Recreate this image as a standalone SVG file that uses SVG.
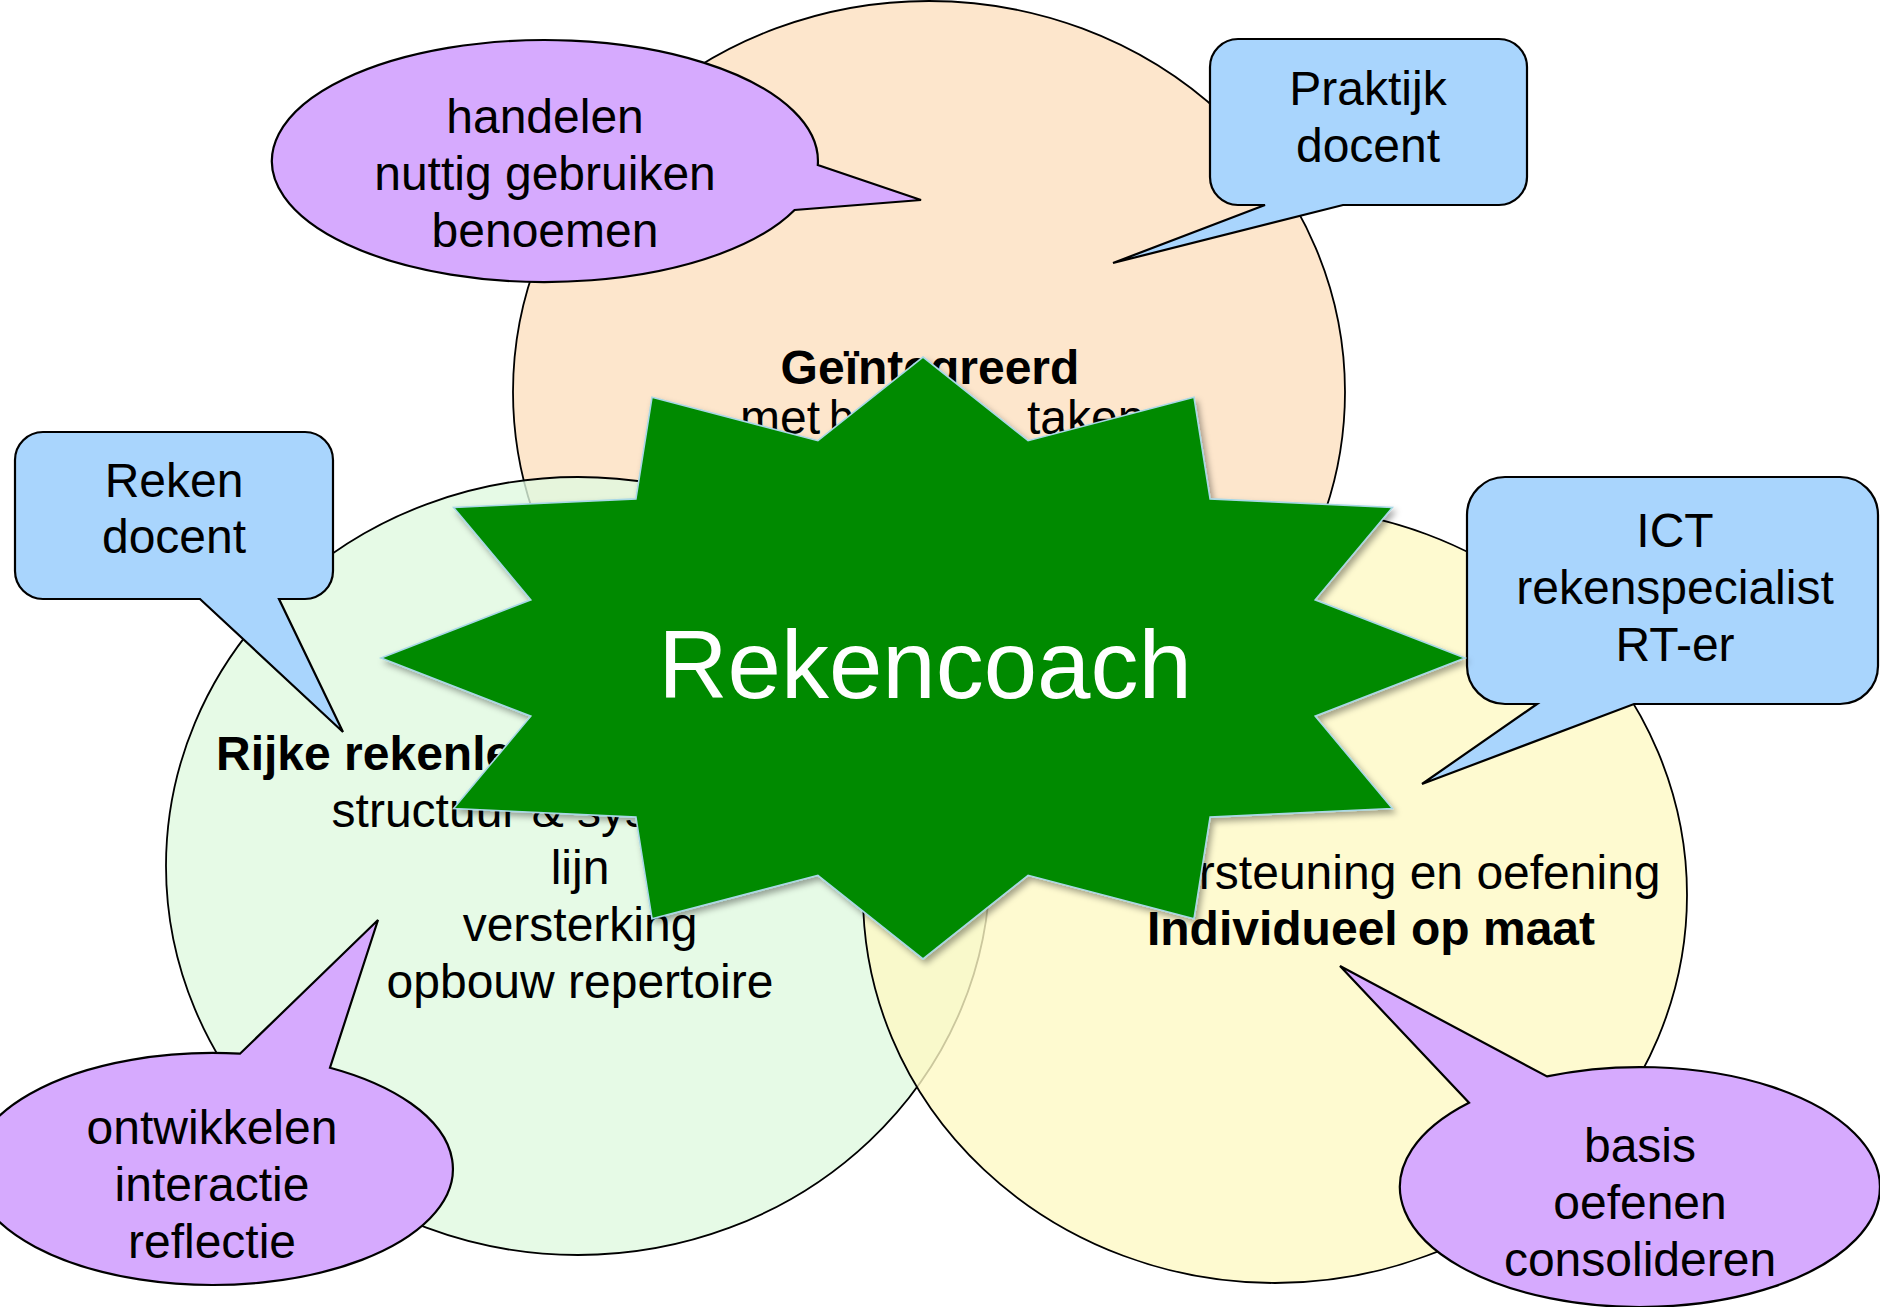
<svg xmlns="http://www.w3.org/2000/svg" width="1880" height="1307" viewBox="0 0 1880 1307">
<defs>
<style>
.t{font-family:"Liberation Sans",Arial,Helvetica,sans-serif;font-size:48px;fill:#000;text-anchor:middle}
.s{text-anchor:start}
.b{font-weight:bold}
.circ{stroke:#000;stroke-width:1.8}
.blue{fill:#a9d5fd;stroke:#000;stroke-width:2.2;stroke-linejoin:miter}
.purple{fill:#d6aafe;stroke:#000;stroke-width:2.2;stroke-linejoin:miter}
</style>
<filter id="shadow" x="-10%" y="-10%" width="120%" height="120%">
<feDropShadow dx="3" dy="4" stdDeviation="3" flood-color="#000" flood-opacity="0.35"/>
</filter>
</defs>
<rect x="0" y="0" width="1880" height="1307" fill="#fff"/>

<g id="circle-top">
<ellipse class="circ" cx="929" cy="392" rx="416" ry="391" fill="#fde6cc"/>
</g>
<g id="circle-left">
<ellipse class="circ" cx="578" cy="866" rx="412" ry="389" fill="#e0f9e0" fill-opacity="0.8"/>
</g>
<g id="circle-right">
<ellipse class="circ" cx="1275" cy="895" rx="412" ry="388" fill="#fef9c4" fill-opacity="0.8"/>
</g>

<g id="circle-top-text">
<text class="t b" x="930" y="384">Geïntegreerd</text>
<text class="t s" y="434"><tspan x="740">met </tspan><tspan x="829" textLength="162" lengthAdjust="spacingAndGlyphs">beroeps</tspan><tspan x="1027">taken</tspan></text>
</g>
<g id="circle-left-text">
<text class="t b s" x="216" y="770">Rijke rekenlessen</text>
<text class="t" x="581" y="827">structuur &amp; systematiek</text>
<text class="t" x="580" y="884">lijn</text>
<text class="t" x="580" y="941">versterking</text>
<text class="t" x="580" y="998">opbouw repertoire</text>
</g>
<g id="circle-right-text">
<text class="t" x="1371" y="889">Ondersteuning en oefening</text>
<text class="t b" x="1371" y="945">Individueel op maat</text>
</g>

<g id="callout-handelen">
<path class="purple" d="M 817.8,165 A 273 121 0 1 0 794.6,210 L 921,200 Z"/>
<text class="t" x="545" y="133">handelen</text>
<text class="t" x="545" y="190">nuttig gebruiken</text>
<text class="t" x="545" y="247">benoemen</text>
</g>

<g id="callout-praktijk">
<path class="blue" d="M 1238,39 H 1499 A 28 28 0 0 1 1527,67 V 177 A 28 28 0 0 1 1499,205 H 1343 L 1113,263 L 1265,205 H 1238 A 28 28 0 0 1 1210,177 V 67 A 28 28 0 0 1 1238,39 Z"/>
<text class="t" x="1368" y="105">Praktijk</text>
<text class="t" x="1368" y="162">docent</text>
</g>

<g id="callout-reken">
<path class="blue" d="M 43,432 H 305 A 28 28 0 0 1 333,460 V 571 A 28 28 0 0 1 305,599 H 279 L 343,732 L 200,599 H 43 A 28 28 0 0 1 15,571 V 460 A 28 28 0 0 1 43,432 Z"/>
<text class="t" x="174" y="497">Reken</text>
<text class="t" x="174" y="553">docent</text>
</g>

<g id="callout-ontwikkelen">
<path class="purple" d="M 330,1067.7 A 240 116 0 1 1 240,1053.7 L 378,920 Z"/>
<text class="t" x="212" y="1144">ontwikkelen</text>
<text class="t" x="212" y="1201">interactie</text>
<text class="t" x="212" y="1258">reflectie</text>
</g>

<g id="callout-basis">
<path class="purple" d="M 1547,1076.4 A 240 120 0 1 1 1469,1102.8 L 1340,966 Z"/>
<text class="t" x="1640" y="1162">basis</text>
<text class="t" x="1640" y="1219">oefenen</text>
<text class="t" x="1640" y="1276">consolideren</text>
</g>

<g id="callout-ict">
<path class="blue" d="M 1505,477 H 1840 A 38 38 0 0 1 1878,515 V 666 A 38 38 0 0 1 1840,704 H 1634 L 1422,784 L 1537,704 H 1505 A 38 38 0 0 1 1467,666 V 515 A 38 38 0 0 1 1505,477 Z"/>
<text class="t" x="1675" y="547">ICT</text>
<text class="t" x="1675" y="604">rekenspecialist</text>
<text class="t" x="1675" y="661">RT-er</text>
</g>

<g id="star-rekencoach">
<polygon filter="url(#shadow)" fill="#008a00" stroke="#a8d8e6" stroke-width="1.6" stroke-linejoin="miter" points="923,357 1028.1,440.7 1194,397.3 1210.1,498.9 1392.4,507.5 1315.2,599.8 1465,658 1315.2,716.2 1392.4,808.5 1210.1,817.1 1194,918.7 1028.1,875.3 923,959 817.9,875.3 652,918.7 635.9,817.1 453.6,808.5 530.8,716.2 381,658 530.8,599.8 453.6,507.5 635.9,498.9 652,397.3 817.9,440.7"/>
<text class="t" x="925" y="698" style="font-size:96px;fill:#fff">Rekencoach</text>
</g>
</svg>
